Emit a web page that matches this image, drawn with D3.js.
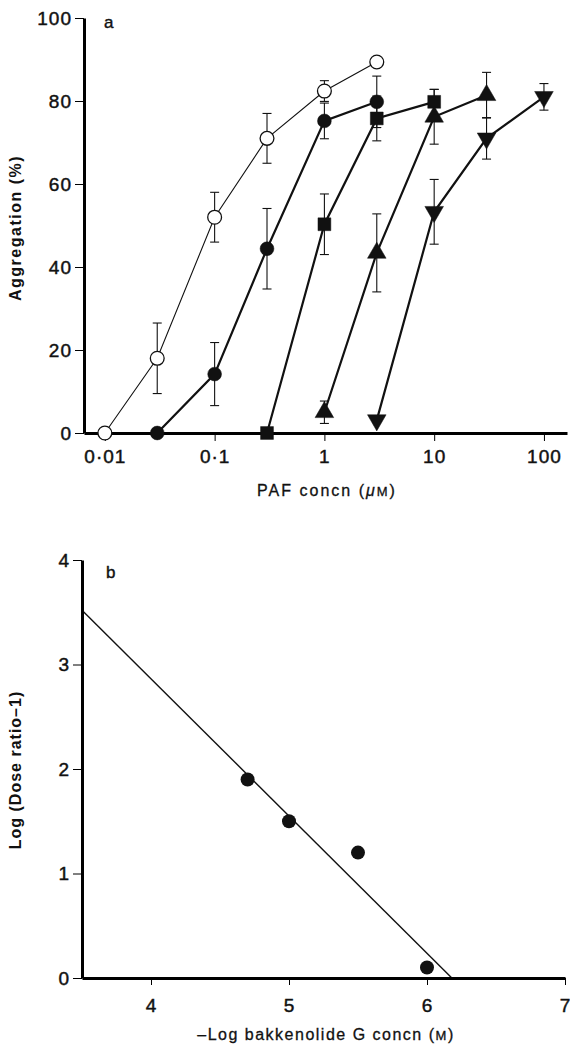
<!DOCTYPE html>
<html>
<head>
<meta charset="utf-8">
<script src="https://cdn.jsdelivr.net/npm/d3@7"></script>
<style>
  body { margin: 0; background: #fff; }
  text { font-family: "Liberation Sans", Arial, Helvetica, sans-serif; fill: #111; }
</style>
</head>
<body>
<div class="chart"></div>
<script>
// ---- Panel a: PAF concentration-response curves
const pafTicks = [0.01, 0.1, 1, 10, 100];
const pafTickLabels = ["0·01", "0·1", "1", "10", "100"];
const aggTicks = [0, 20, 40, 60, 80, 100];

// open circles (control)
const ctrlX = [0.01, 0.03, 0.1, 0.3, 1, 3];
const ctrlY = [0, 18, 52, 71, 82.4, 89.4];
const ctrlErr = [0, 8.5, 6, 6, 2.5, 0];
// filled circles
const g1X = [0.03, 0.1, 0.3, 1, 3];
const g1Y = [0, 14.2, 44.4, 75.2, 79.8];
const g1Err = [0, 7.6, 9.7, 4.3, 6.2];
// squares
const g2X = [0.3, 1, 3, 10];
const g2Y = [0, 50.3, 75.8, 79.8];
const g2Err = [0, 7.3, 5.4, 3];
// up triangles
const g3X = [1, 3, 10, 30];
const g3Y = [5, 43.4, 76.2, 81.4];
const g3Err = [2.7, 9.4, 6.6, 5.5];
// down triangles
const g4X = [3, 10, 30, 100];
const g4Y = [3.1, 53.3, 71, 81];
const g4Err = [0, 7.8, 5, 3.2];

// ---- Panel b: Schild plot
const schildTicksX = [4, 5, 6, 7];
const schildTicksY = [0, 1, 2, 3, 4];
const schildX = [4.7, 5, 5.5, 6];
const schildY = [1.9, 1.5, 1.2, 0.1];
const fitX = [3.5, 6.18];
const fitY = [3.52, 0];

const W = 570, H = 1047;
const svg = d3.select(".chart").append("svg")
    .attr("width", W)
    .attr("height", H);

// scales for panel a
const xA = d3.scaleLog().domain([Math.pow(10, -2.19), Math.pow(10, 2.21)]).range([84, 567]);
const yA = d3.scaleLinear().domain([0, 100]).range([433, 18]);

const series = [
    { x: ctrlX, y: ctrlY, e: ctrlErr, sym: "open", lw: 1.1 },
    { x: g1X, y: g1Y, e: g1Err, sym: "circle", lw: 2.2 },
    { x: g2X, y: g2Y, e: g2Err, sym: "square", lw: 2.2 },
    { x: g3X, y: g3Y, e: g3Err, sym: "up", lw: 2.2 },
    { x: g4X, y: g4Y, e: g4Err, sym: "down", lw: 2.2 }
];

const gA = svg.append("g");

// error bars
series.forEach(s => {
    s.x.forEach((xv, i) => {
        if (!s.e[i]) return;
        const cx = xA(xv), y1 = yA(s.y[i] + s.e[i]), y2 = yA(Math.max(0, s.y[i] - s.e[i]));
        const eb = gA.append("g").attr("stroke", "#111").attr("stroke-width", 1.1);
        eb.append("line").attr("x1", cx).attr("x2", cx).attr("y1", y1).attr("y2", y2);
        eb.append("line").attr("x1", cx - 4.5).attr("x2", cx + 4.5).attr("y1", y1).attr("y2", y1);
        eb.append("line").attr("x1", cx - 4.5).attr("x2", cx + 4.5).attr("y1", y2).attr("y2", y2);
    });
});

// lines
const lineA = d3.line().x(d => xA(d[0])).y(d => yA(d[1]));
series.forEach(s => {
    gA.append("path")
        .attr("d", lineA(s.x.map((xv, i) => [xv, s.y[i]])))
        .attr("fill", "none")
        .attr("stroke", "#111")
        .attr("stroke-width", s.lw);
});

// tick label look (scanned print is a bit heavy)
function tickText(ax) {
    ax.selectAll(".tick text")
        .style("font-size", "19px")
        .style("letter-spacing", "1px")
        .attr("fill", "#111")
        .attr("stroke", "#111")
        .attr("stroke-width", 0.45);
}

// axes panel a
const axA_y = svg.append("g")
    .attr("transform", "translate(84,0)")
    .call(d3.axisLeft(yA).tickValues(aggTicks).tickSize(9).tickSizeOuter(0).tickPadding(3));
axA_y.select(".domain").attr("stroke-width", 3);
axA_y.selectAll(".tick line").attr("stroke-width", 1);
tickText(axA_y);

const axA_x = svg.append("g")
    .attr("transform", "translate(0,433)")
    .call(d3.axisBottom(xA).tickValues(pafTicks).tickFormat((d, i) => pafTickLabels[i]).tickSize(8).tickSizeOuter(0).tickPadding(9));
axA_x.select(".domain").attr("stroke-width", 3.2);
axA_x.selectAll(".tick line").attr("stroke-width", 1);
tickText(axA_x);

// markers
const symArea = { open: 150, circle: 150, square: 165, up: 150, down: 150 };
const symType = { open: d3.symbolCircle, circle: d3.symbolCircle, square: d3.symbolSquare, up: d3.symbolTriangle, down: d3.symbolTriangle };
series.forEach(s => {
    gA.append("g").selectAll("path")
        .data(s.x.map((xv, i) => [xv, s.y[i]]))
        .join("path")
        .attr("d", d3.symbol().type(symType[s.sym]).size(symArea[s.sym]))
        .attr("transform", d => `translate(${xA(d[0])},${yA(d[1])})` + (s.sym === "down" ? " rotate(180)" : ""))
        .attr("fill", s.sym === "open" ? "#fff" : "#111")
        .attr("stroke", "#111")
        .attr("stroke-width", s.sym === "open" ? 1.3 : 0.5);
});
gA.raise();

svg.append("text").attr("x", 104).attr("y", 28).style("font-size", "17px")
    .attr("stroke", "#111").attr("stroke-width", 0.4).text("a");

const xtA = svg.append("text")
    .attr("x", 327).attr("y", 496)
    .attr("text-anchor", "middle")
    .style("font-size", "16px")
    .style("letter-spacing", "2px")
    .attr("stroke", "#111").attr("stroke-width", 0.3)
    .text("PAF concn (");
xtA.append("tspan").style("font-style", "italic").text("μ");
xtA.append("tspan").style("font-size", "13px").text("M");
xtA.append("tspan").text(")");

svg.append("text")
    .attr("transform", "translate(21,228) rotate(-90)")
    .attr("text-anchor", "middle")
    .style("font-size", "16px")
    .style("font-weight", "bold")
    .style("letter-spacing", "1.5px")
    .text("Aggregation (%)");

// ---- panel b
const xB = d3.scaleLinear().domain([3.5, 7]).range([82, 565]);
const yB = d3.scaleLinear().domain([0, 4]).range([978, 560]);

svg.append("path")
    .attr("d", d3.line().x(d => xB(d[0])).y(d => yB(d[1]))(fitX.map((xv, i) => [xv, fitY[i]])))
    .attr("fill", "none")
    .attr("stroke", "#111")
    .attr("stroke-width", 1.4);

const axB_y = svg.append("g")
    .attr("transform", "translate(82,0)")
    .call(d3.axisLeft(yB).tickValues(schildTicksY).tickFormat(d3.format("d")).tickSize(9).tickSizeOuter(0).tickPadding(3));
axB_y.select(".domain").attr("stroke-width", 3);
axB_y.selectAll(".tick line").attr("stroke-width", 1);
tickText(axB_y);

const axB_x = svg.append("g")
    .attr("transform", "translate(0,978)")
    .call(d3.axisBottom(xB).tickValues(schildTicksX).tickFormat(d3.format("d")).tickSize(7).tickSizeOuter(0).tickPadding(14));
axB_x.select(".domain").attr("stroke-width", 3);
axB_x.selectAll(".tick line").attr("stroke-width", 1);
tickText(axB_x);

svg.append("g").selectAll("circle")
    .data(schildX.map((xv, i) => [xv, schildY[i]]))
    .join("circle")
    .attr("cx", d => xB(d[0]))
    .attr("cy", d => yB(d[1]))
    .attr("r", 7)
    .attr("fill", "#111");

svg.append("text").attr("x", 106).attr("y", 578).style("font-size", "17px")
    .attr("stroke", "#111").attr("stroke-width", 0.4).text("b");

svg.append("text")
    .attr("transform", "translate(21,770) rotate(-90)")
    .attr("text-anchor", "middle")
    .style("font-size", "16px")
    .style("font-weight", "bold")
    .style("letter-spacing", "1px")
    .text("Log (Dose ratio–1)");

const xtB = svg.append("text")
    .attr("x", 326).attr("y", 1040)
    .attr("text-anchor", "middle")
    .style("font-size", "16px")
    .style("letter-spacing", "1.5px")
    .attr("stroke", "#111").attr("stroke-width", 0.3)
    .text("–Log bakkenolide G concn (");
xtB.append("tspan").style("font-size", "13px").text("M");
xtB.append("tspan").text(")");
</script>
</body>
</html>
